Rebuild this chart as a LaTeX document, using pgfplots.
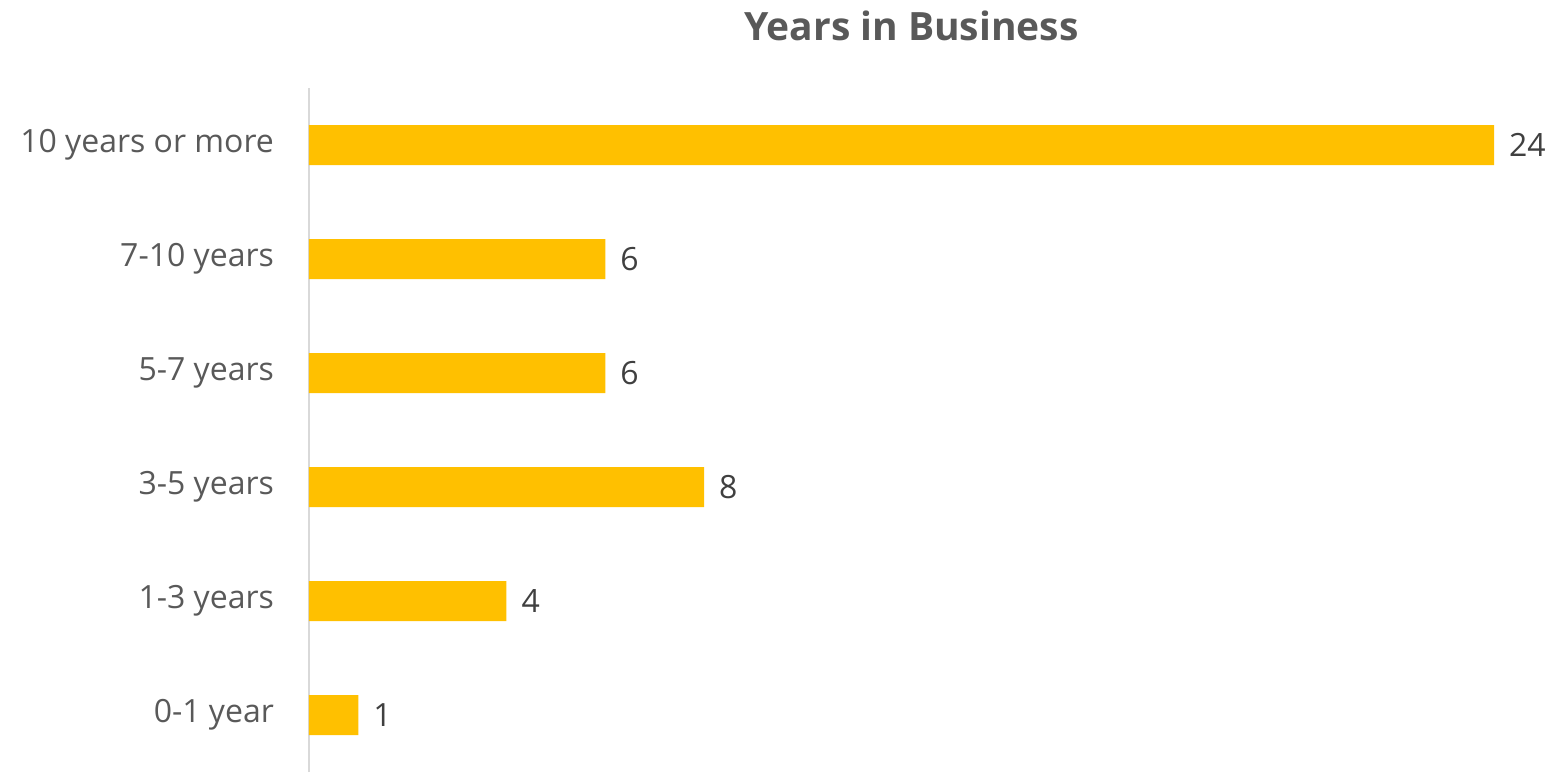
\documentclass[border=0pt]{standalone}
\usepackage{pgfplots}
\pgfplotsset{compat=1.18}
\usepackage{fontspec}
\setmainfont{Open Sans}
\definecolor{barc}{HTML}{FFC000}
\definecolor{lab}{HTML}{595959}
\definecolor{dlab}{HTML}{404040}
\definecolor{axl}{HTML}{D9D9D9}
\begin{document}
\begin{tikzpicture}
\begin{axis}[
  scale only axis,
  width=592.5pt, height=342pt,
  xbar, bar width=20pt,
  xmin=0, xmax=24,
  ymin=-0.5, ymax=5.5,
  hide x axis,
  axis y line*=left,
  y axis line style={axl, line width=0.8pt},
  ytick={0,1,2,3,4,5},
  yticklabels={0-1 year,1-3 years,3-5 years,5-7 years,7-10 years,10 years or more},
  major tick length=0pt,
  /pgf/number format/assume math mode=true,
  yticklabel style={font=\fontsize{16}{19}\selectfont, text=lab, xshift=-14pt},
  nodes near coords,
  every node near coord/.append style={font=\fontsize{16}{19}\selectfont, text=dlab, xshift=4pt},
  clip=false,
  title={\bfseries Years in Business},
  title style={font=\fontsize{19.5}{23}\selectfont, text=lab, at={(rel axis cs:0.5,1)}, anchor=center, yshift=25pt, xshift=5pt},
]
\addplot[fill=barc, draw=none] coordinates {(1,0) (4,1) (8,2) (6,3) (6,4) (24,5)};
\coordinate (sw) at (rel axis cs:0,0);
\end{axis}
\pgfresetboundingbox
\path (sw) ++(-154.5pt,0pt) rectangle ++(778.5pt,386pt);
\end{tikzpicture}
\end{document}
